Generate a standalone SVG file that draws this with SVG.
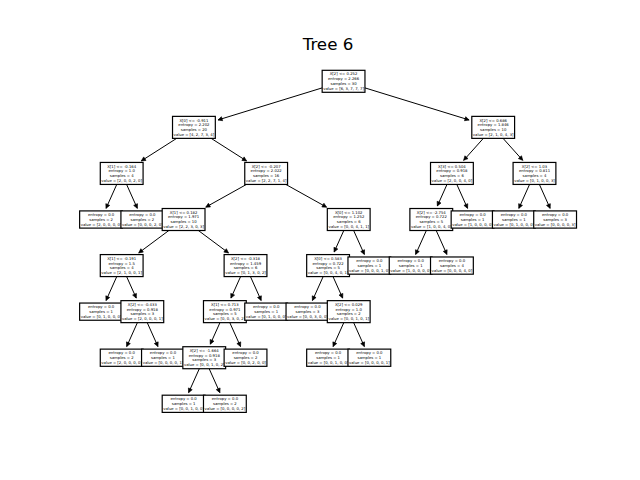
<svg xmlns="http://www.w3.org/2000/svg" width="640" height="480" viewBox="0 0 640 480">
  <style>
    .box { fill: #fff; stroke: #000; stroke-width: 1.2; }
    .lbl { font-family: "DejaVu Sans", "Liberation Sans", sans-serif; font-size: 3.8px; text-anchor: middle; fill: #000; }
    .title { font-family: "DejaVu Sans", "Liberation Sans", sans-serif; font-size: 16.7px; text-anchor: middle; fill: #000; }
    .edge { stroke: #000; stroke-width: 1; fill: none; marker-end: url(#ah); }
  </style>
  <defs>
    <marker id="ah" viewBox="-6 -4 8 8" refX="0" refY="0" markerWidth="8" markerHeight="8" orient="auto" markerUnits="userSpaceOnUse">
      <path d="M-4.2,-2.1 L0,0 L-4.2,2.1 Z" fill="#000" stroke="#000" stroke-width="0.6" stroke-linejoin="round"/>
    </marker>
    <rect id="dbox" class="box" x="-21.4" y="-11" width="42.8" height="22"/>
    <rect id="lbox" class="box" x="-21.4" y="-8.6" width="42.8" height="17.2"/>
  </defs>
  <rect width="640" height="480" fill="#fff"/>
  <text class="title" x="328" y="49.5">Tree 6</text>

  <g transform="translate(0,0.8)">
  <!-- connectors: drawn first so node boxes cover the parent ends -->
  <g id="connectors">
    <path class="edge" d="M343.56,80.5 L218.0,119.16"/>
    <path class="edge" d="M343.56,80.5 L469.12,119.16"/>
    <path class="edge" d="M193.92,126.57 L141.29,160.13"/>
    <path class="edge" d="M193.92,126.57 L246.55,160.13"/>
    <path class="edge" d="M493.2,126.57 L463.65,159.55"/>
    <path class="edge" d="M493.2,126.57 L522.75,159.55"/>
    <path class="edge" d="M121.68,172.64 L106.04,207.55"/>
    <path class="edge" d="M121.68,172.64 L137.32,207.55"/>
    <path class="edge" d="M266.16,172.64 L205.76,206.35"/>
    <path class="edge" d="M266.16,172.64 L326.56,206.35"/>
    <path class="edge" d="M451.92,172.64 L437.35,205.15"/>
    <path class="edge" d="M451.92,172.64 L467.56,207.55"/>
    <path class="edge" d="M534.48,172.64 L518.84,207.55"/>
    <path class="edge" d="M534.48,172.64 L550.12,207.55"/>
    <path class="edge" d="M183.6,218.71 L138.72,252.11"/>
    <path class="edge" d="M183.6,218.71 L228.48,252.11"/>
    <path class="edge" d="M348.72,218.71 L334.15,251.22"/>
    <path class="edge" d="M348.72,218.71 L364.36,253.62"/>
    <path class="edge" d="M431.28,218.71 L415.64,253.62"/>
    <path class="edge" d="M431.28,218.71 L446.92,253.62"/>
    <path class="edge" d="M121.68,264.78 L106.04,299.69"/>
    <path class="edge" d="M121.68,264.78 L136.25,297.29"/>
    <path class="edge" d="M245.52,264.78 L230.95,297.29"/>
    <path class="edge" d="M245.52,264.78 L261.16,299.69"/>
    <path class="edge" d="M328.08,264.78 L312.44,299.69"/>
    <path class="edge" d="M328.08,264.78 L342.65,297.29"/>
    <path class="edge" d="M142.32,310.85 L126.68,345.76"/>
    <path class="edge" d="M142.32,310.85 L157.96,345.76"/>
    <path class="edge" d="M224.88,310.85 L210.31,343.36"/>
    <path class="edge" d="M224.88,310.85 L240.52,345.76"/>
    <path class="edge" d="M348.72,310.85 L333.08,345.76"/>
    <path class="edge" d="M348.72,310.85 L364.36,345.76"/>
    <path class="edge" d="M204.24,356.92 L188.6,391.83"/>
    <path class="edge" d="M204.24,356.92 L219.88,391.83"/>
  </g>

  <!-- split nodes: 4 lines; leaves: 3 lines -->
  <g id="n0" transform="translate(343.56,80.5)"><use href="#dbox"/><text class="lbl"><tspan x="0" y="-5.85">X[2] &lt;= 0.252</tspan><tspan x="0" y="-1.05">entropy = 2.266</tspan><tspan x="0" y="3.75">samples = 30</tspan><tspan x="0" y="8.55">value = [6, 3, 7, 7, 7]</tspan></text></g>
  <g id="n1" transform="translate(193.92,126.57)"><use href="#dbox"/><text class="lbl"><tspan x="0" y="-5.85">X[0] &lt;= -0.911</tspan><tspan x="0" y="-1.05">entropy = 2.202</tspan><tspan x="0" y="3.75">samples = 20</tspan><tspan x="0" y="8.55">value = [4, 2, 7, 3, 4]</tspan></text></g>
  <g id="n2" transform="translate(493.2,126.57)"><use href="#dbox"/><text class="lbl"><tspan x="0" y="-5.85">X[2] &lt;= 0.686</tspan><tspan x="0" y="-1.05">entropy = 1.846</tspan><tspan x="0" y="3.75">samples = 10</tspan><tspan x="0" y="8.55">value = [2, 1, 0, 4, 3]</tspan></text></g>
  <g id="n3" transform="translate(121.68,172.64)"><use href="#dbox"/><text class="lbl"><tspan x="0" y="-5.85">X[1] &lt;= -0.164</tspan><tspan x="0" y="-1.05">entropy = 1.0</tspan><tspan x="0" y="3.75">samples = 4</tspan><tspan x="0" y="8.55">value = [2, 0, 0, 2, 0]</tspan></text></g>
  <g id="n4" transform="translate(266.16,172.64)"><use href="#dbox"/><text class="lbl"><tspan x="0" y="-5.85">X[2] &lt;= -0.207</tspan><tspan x="0" y="-1.05">entropy = 2.022</tspan><tspan x="0" y="3.75">samples = 16</tspan><tspan x="0" y="8.55">value = [2, 2, 7, 1, 4]</tspan></text></g>
  <g id="n5" transform="translate(451.92,172.64)"><use href="#dbox"/><text class="lbl"><tspan x="0" y="-5.85">X[3] &lt;= 0.504</tspan><tspan x="0" y="-1.05">entropy = 0.918</tspan><tspan x="0" y="3.75">samples = 6</tspan><tspan x="0" y="8.55">value = [2, 0, 0, 4, 0]</tspan></text></g>
  <g id="n6" transform="translate(534.48,172.64)"><use href="#dbox"/><text class="lbl"><tspan x="0" y="-5.85">X[2] &lt;= 1.03</tspan><tspan x="0" y="-1.05">entropy = 0.811</tspan><tspan x="0" y="3.75">samples = 4</tspan><tspan x="0" y="8.55">value = [0, 1, 0, 0, 3]</tspan></text></g>
  <g id="n7" transform="translate(101.04,218.71)"><use href="#lbox"/><text class="lbl"><tspan x="0" y="-3.45">entropy = 0.0</tspan><tspan x="0" y="1.35">samples = 2</tspan><tspan x="0" y="6.15">value = [2, 0, 0, 0, 0]</tspan></text></g>
  <g id="n8" transform="translate(142.32,218.71)"><use href="#lbox"/><text class="lbl"><tspan x="0" y="-3.45">entropy = 0.0</tspan><tspan x="0" y="1.35">samples = 2</tspan><tspan x="0" y="6.15">value = [0, 0, 0, 2, 0]</tspan></text></g>
  <g id="n9" transform="translate(183.6,218.71)"><use href="#dbox"/><text class="lbl"><tspan x="0" y="-5.85">X[1] &lt;= 0.182</tspan><tspan x="0" y="-1.05">entropy = 1.971</tspan><tspan x="0" y="3.75">samples = 10</tspan><tspan x="0" y="8.55">value = [2, 2, 3, 0, 3]</tspan></text></g>
  <g id="n10" transform="translate(348.72,218.71)"><use href="#dbox"/><text class="lbl"><tspan x="0" y="-5.85">X[0] &lt;= 1.102</tspan><tspan x="0" y="-1.05">entropy = 1.252</tspan><tspan x="0" y="3.75">samples = 6</tspan><tspan x="0" y="8.55">value = [0, 0, 4, 1, 1]</tspan></text></g>
  <g id="n11" transform="translate(431.28,218.71)"><use href="#dbox"/><text class="lbl"><tspan x="0" y="-5.85">X[2] &lt;= -2.754</tspan><tspan x="0" y="-1.05">entropy = 0.722</tspan><tspan x="0" y="3.75">samples = 5</tspan><tspan x="0" y="8.55">value = [1, 0, 0, 4, 0]</tspan></text></g>
  <g id="n12" transform="translate(472.56,218.71)"><use href="#lbox"/><text class="lbl"><tspan x="0" y="-3.45">entropy = 0.0</tspan><tspan x="0" y="1.35">samples = 1</tspan><tspan x="0" y="6.15">value = [1, 0, 0, 0, 0]</tspan></text></g>
  <g id="n13" transform="translate(513.84,218.71)"><use href="#lbox"/><text class="lbl"><tspan x="0" y="-3.45">entropy = 0.0</tspan><tspan x="0" y="1.35">samples = 1</tspan><tspan x="0" y="6.15">value = [0, 1, 0, 0, 0]</tspan></text></g>
  <g id="n14" transform="translate(555.12,218.71)"><use href="#lbox"/><text class="lbl"><tspan x="0" y="-3.45">entropy = 0.0</tspan><tspan x="0" y="1.35">samples = 3</tspan><tspan x="0" y="6.15">value = [0, 0, 0, 0, 3]</tspan></text></g>
  <g id="n15" transform="translate(121.68,264.78)"><use href="#dbox"/><text class="lbl"><tspan x="0" y="-5.85">X[1] &lt;= -0.191</tspan><tspan x="0" y="-1.05">entropy = 1.5</tspan><tspan x="0" y="3.75">samples = 4</tspan><tspan x="0" y="8.55">value = [2, 1, 0, 0, 1]</tspan></text></g>
  <g id="n16" transform="translate(245.52,264.78)"><use href="#dbox"/><text class="lbl"><tspan x="0" y="-5.85">X[2] &lt;= -0.318</tspan><tspan x="0" y="-1.05">entropy = 1.459</tspan><tspan x="0" y="3.75">samples = 6</tspan><tspan x="0" y="8.55">value = [0, 1, 3, 0, 2]</tspan></text></g>
  <g id="n17" transform="translate(328.08,264.78)"><use href="#dbox"/><text class="lbl"><tspan x="0" y="-5.85">X[0] &lt;= 0.583</tspan><tspan x="0" y="-1.05">entropy = 0.722</tspan><tspan x="0" y="3.75">samples = 5</tspan><tspan x="0" y="8.55">value = [0, 0, 4, 0, 1]</tspan></text></g>
  <g id="n18" transform="translate(369.36,264.78)"><use href="#lbox"/><text class="lbl"><tspan x="0" y="-3.45">entropy = 0.0</tspan><tspan x="0" y="1.35">samples = 1</tspan><tspan x="0" y="6.15">value = [0, 0, 0, 1, 0]</tspan></text></g>
  <g id="n19" transform="translate(410.64,264.78)"><use href="#lbox"/><text class="lbl"><tspan x="0" y="-3.45">entropy = 0.0</tspan><tspan x="0" y="1.35">samples = 1</tspan><tspan x="0" y="6.15">value = [1, 0, 0, 0, 0]</tspan></text></g>
  <g id="n20" transform="translate(451.92,264.78)"><use href="#lbox"/><text class="lbl"><tspan x="0" y="-3.45">entropy = 0.0</tspan><tspan x="0" y="1.35">samples = 4</tspan><tspan x="0" y="6.15">value = [0, 0, 0, 4, 0]</tspan></text></g>
  <g id="n21" transform="translate(101.04,310.85)"><use href="#lbox"/><text class="lbl"><tspan x="0" y="-3.45">entropy = 0.0</tspan><tspan x="0" y="1.35">samples = 1</tspan><tspan x="0" y="6.15">value = [0, 1, 0, 0, 0]</tspan></text></g>
  <g id="n22" transform="translate(142.32,310.85)"><use href="#dbox"/><text class="lbl"><tspan x="0" y="-5.85">X[2] &lt;= -0.433</tspan><tspan x="0" y="-1.05">entropy = 0.918</tspan><tspan x="0" y="3.75">samples = 3</tspan><tspan x="0" y="8.55">value = [2, 0, 0, 0, 1]</tspan></text></g>
  <g id="n23" transform="translate(224.88,310.85)"><use href="#dbox"/><text class="lbl"><tspan x="0" y="-5.85">X[1] &lt;= 0.713</tspan><tspan x="0" y="-1.05">entropy = 0.971</tspan><tspan x="0" y="3.75">samples = 5</tspan><tspan x="0" y="8.55">value = [0, 0, 3, 0, 2]</tspan></text></g>
  <g id="n24" transform="translate(266.16,310.85)"><use href="#lbox"/><text class="lbl"><tspan x="0" y="-3.45">entropy = 0.0</tspan><tspan x="0" y="1.35">samples = 1</tspan><tspan x="0" y="6.15">value = [0, 1, 0, 0, 0]</tspan></text></g>
  <g id="n25" transform="translate(307.44,310.85)"><use href="#lbox"/><text class="lbl"><tspan x="0" y="-3.45">entropy = 0.0</tspan><tspan x="0" y="1.35">samples = 3</tspan><tspan x="0" y="6.15">value = [0, 0, 3, 0, 0]</tspan></text></g>
  <g id="n26" transform="translate(348.72,310.85)"><use href="#dbox"/><text class="lbl"><tspan x="0" y="-5.85">X[2] &lt;= 0.029</tspan><tspan x="0" y="-1.05">entropy = 1.0</tspan><tspan x="0" y="3.75">samples = 2</tspan><tspan x="0" y="8.55">value = [0, 0, 1, 0, 1]</tspan></text></g>
  <g id="n27" transform="translate(121.68,356.92)"><use href="#lbox"/><text class="lbl"><tspan x="0" y="-3.45">entropy = 0.0</tspan><tspan x="0" y="1.35">samples = 2</tspan><tspan x="0" y="6.15">value = [2, 0, 0, 0, 0]</tspan></text></g>
  <g id="n28" transform="translate(162.96,356.92)"><use href="#lbox"/><text class="lbl"><tspan x="0" y="-3.45">entropy = 0.0</tspan><tspan x="0" y="1.35">samples = 1</tspan><tspan x="0" y="6.15">value = [0, 0, 0, 0, 1]</tspan></text></g>
  <g id="n29" transform="translate(204.24,356.92)"><use href="#dbox"/><text class="lbl"><tspan x="0" y="-5.85">X[2] &lt;= -1.664</tspan><tspan x="0" y="-1.05">entropy = 0.918</tspan><tspan x="0" y="3.75">samples = 3</tspan><tspan x="0" y="8.55">value = [0, 0, 1, 0, 2]</tspan></text></g>
  <g id="n30" transform="translate(245.52,356.92)"><use href="#lbox"/><text class="lbl"><tspan x="0" y="-3.45">entropy = 0.0</tspan><tspan x="0" y="1.35">samples = 2</tspan><tspan x="0" y="6.15">value = [0, 0, 2, 0, 0]</tspan></text></g>
  <g id="n31" transform="translate(328.08,356.92)"><use href="#lbox"/><text class="lbl"><tspan x="0" y="-3.45">entropy = 0.0</tspan><tspan x="0" y="1.35">samples = 1</tspan><tspan x="0" y="6.15">value = [0, 0, 1, 0, 0]</tspan></text></g>
  <g id="n32" transform="translate(369.36,356.92)"><use href="#lbox"/><text class="lbl"><tspan x="0" y="-3.45">entropy = 0.0</tspan><tspan x="0" y="1.35">samples = 1</tspan><tspan x="0" y="6.15">value = [0, 0, 0, 0, 1]</tspan></text></g>
  <g id="n33" transform="translate(183.6,402.99)"><use href="#lbox"/><text class="lbl"><tspan x="0" y="-3.45">entropy = 0.0</tspan><tspan x="0" y="1.35">samples = 1</tspan><tspan x="0" y="6.15">value = [0, 0, 1, 0, 0]</tspan></text></g>
  <g id="n34" transform="translate(224.88,402.99)"><use href="#lbox"/><text class="lbl"><tspan x="0" y="-3.45">entropy = 0.0</tspan><tspan x="0" y="1.35">samples = 2</tspan><tspan x="0" y="6.15">value = [0, 0, 0, 0, 2]</tspan></text></g>
  </g>
</svg>
